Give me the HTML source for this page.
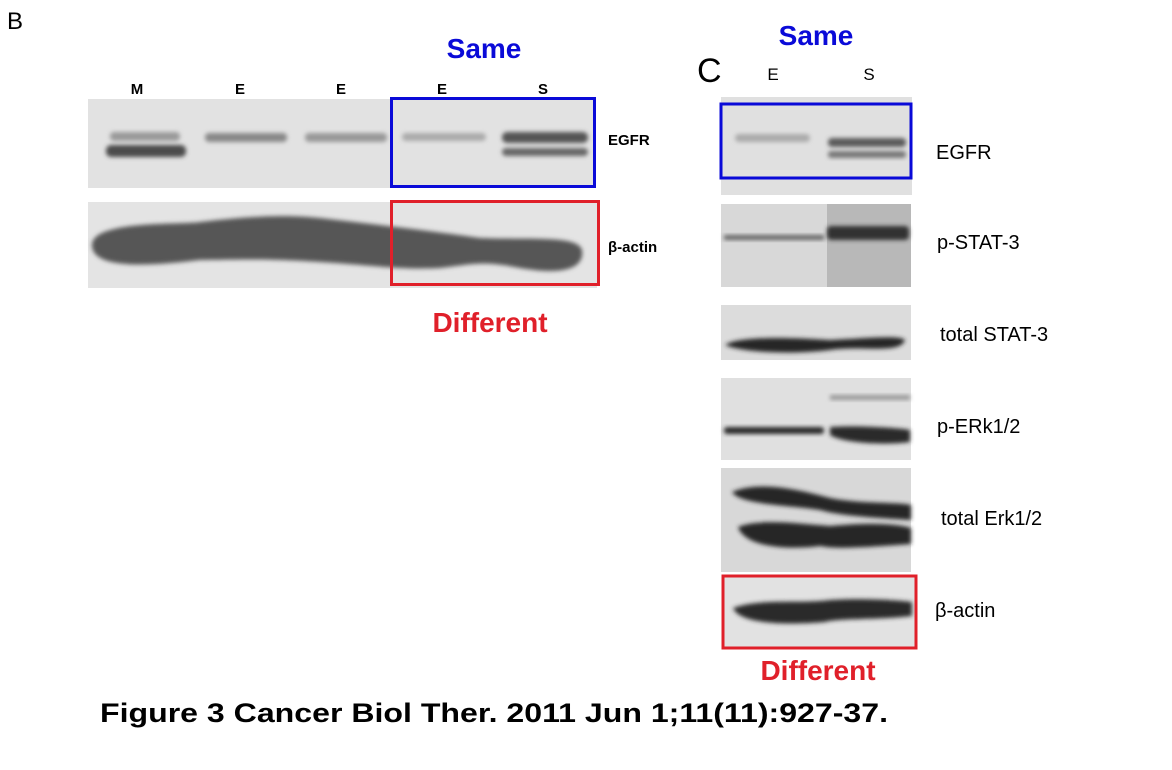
<!DOCTYPE html>
<html><head><meta charset="utf-8"><style>
html,body{margin:0;padding:0;background:#fff;width:1172px;height:770px;overflow:hidden}
svg{display:block}
</style></head><body>
<svg width="1172" height="770" viewBox="0 0 1172 770" xmlns="http://www.w3.org/2000/svg">
<defs>
<filter id="b2" x="-20%" y="-50%" width="140%" height="200%"><feGaussianBlur stdDeviation="2"/></filter>
<filter id="b4" x="-20%" y="-50%" width="140%" height="200%"><feGaussianBlur stdDeviation="4"/></filter>
</defs>
<g font-family="Liberation Sans, Arial, sans-serif">
<text x="7" y="29" font-size="24">B</text>
<text x="484" y="58" font-size="28" font-weight="bold" fill="#0a0ad8" text-anchor="middle">Same</text>
<g font-size="15" font-weight="bold" text-anchor="middle">
<text x="137" y="94">M</text><text x="240" y="94">E</text><text x="341" y="94">E</text><text x="442" y="94">E</text><text x="543" y="94">S</text>
</g>
<!-- B EGFR blot -->
<rect x="88" y="99" width="507" height="89" fill="#e2e2e2"/>
<g fill="#555" filter="url(#b2)">
<rect x="106" y="145" width="80" height="12" rx="5" fill="#4c4c4c"/>
<rect x="110" y="132" width="70" height="9" rx="4" fill="#9a9a9a"/>
<rect x="205" y="133" width="82" height="9" rx="4" fill="#888"/>
<rect x="305" y="133" width="82" height="9" rx="4" fill="#999"/>
<rect x="402" y="133" width="84" height="8" rx="4" fill="#aaa"/>
<rect x="502" y="132" width="86" height="11" rx="5" fill="#555"/>
<rect x="502" y="148" width="86" height="8" rx="4" fill="#666"/>
</g>
<!-- B actin blot -->
<rect x="88" y="202" width="509" height="86" fill="#e4e4e4"/>
<path d="M92,245 C92,220 180,225 200,222 C260,215 290,215 320,218 C380,225 440,232 480,238 C530,240 578,235 582,250 C585,270 560,275 520,268 C480,260 470,265 440,268 C400,270 370,265 320,262 C260,258 230,260 200,260 C150,266 92,270 92,245 Z" fill="#565656" filter="url(#b2)"/>
<text x="608" y="145" font-size="15" font-weight="bold">EGFR</text>
<text x="608" y="252" font-size="15" font-weight="bold">β-actin</text>
<rect x="391.5" y="98.5" width="203" height="88" fill="none" stroke="#0a0ad8" stroke-width="3"/>
<rect x="391.5" y="201.5" width="207" height="83" fill="none" stroke="#e0202a" stroke-width="3"/>
<text x="490" y="332" font-size="28" font-weight="bold" fill="#e0202a" text-anchor="middle">Different</text>

<!-- Panel C -->
<text x="816" y="45" font-size="28" font-weight="bold" fill="#0a0ad8" text-anchor="middle">Same</text>
<text x="697" y="82" font-size="34">C</text>
<text x="773" y="80" font-size="17" text-anchor="middle">E</text>
<text x="869" y="80" font-size="17" text-anchor="middle">S</text>
<rect x="721" y="97" width="191" height="98" fill="#e0e0e0"/>
<rect x="735" y="134" width="75" height="8" rx="4" fill="#aaa" filter="url(#b2)"/>
<rect x="828" y="138" width="78" height="9" rx="4" fill="#5c5c5c" filter="url(#b2)"/>
<rect x="828" y="151" width="78" height="7" rx="3" fill="#777" filter="url(#b2)"/>
<rect x="721" y="204" width="190" height="83" fill="#d8d8d8"/>
<rect x="827" y="204" width="84" height="83" fill="#b8b8b8"/>
<rect x="724" y="235" width="100" height="5" fill="#666" filter="url(#b2)"/>
<rect x="827" y="226" width="82" height="14" rx="4" fill="#333" filter="url(#b2)"/>
<rect x="721" y="305" width="190" height="55" fill="#dcdcdc"/>
<path d="M725,345 C740,335 800,338 830,340 C870,338 900,335 905,340 C900,355 860,345 830,350 C790,355 740,352 725,345Z" fill="#252525" filter="url(#b2)"/>
<rect x="721" y="378" width="190" height="82" fill="#e0e0e0"/>
<rect x="830" y="395" width="80" height="5" fill="#999" filter="url(#b2)"/>
<rect x="724" y="427" width="100" height="7" rx="3" fill="#2a2a2a" filter="url(#b2)"/>
<path d="M830,427 C860,425 900,428 910,430 L910,442 C880,446 840,442 830,435Z" fill="#2a2a2a" filter="url(#b2)"/>
<rect x="721" y="468" width="190" height="104" fill="#d8d8d8"/>
<path d="M732,492 C760,480 800,490 830,498 C860,504 900,502 911,505 L911,520 C880,518 840,516 820,510 C790,505 740,505 732,492Z" fill="#262626" filter="url(#b2)"/>
<path d="M738,527 C760,518 800,524 830,526 C870,522 900,524 911,528 L911,544 C880,546 840,550 820,546 C790,550 745,548 738,527Z" fill="#262626" filter="url(#b2)"/>
<rect x="722" y="576" width="194" height="72" fill="#e2e2e2"/>
<path d="M733,608 C760,598 800,604 830,600 C860,598 900,600 912,602 L912,616 C880,620 840,618 825,622 C790,625 740,625 733,608Z" fill="#2c2c2c" filter="url(#b2)"/>
<rect x="721" y="104" width="190" height="74" fill="none" stroke="#0a0ad8" stroke-width="3"/>
<rect x="723" y="576" width="193" height="72" fill="none" stroke="#e0202a" stroke-width="3"/>
<g font-size="20">
<text x="936" y="159">EGFR</text>
<text x="937" y="249">p-STAT-3</text>
<text x="940" y="341">total STAT-3</text>
<text x="937" y="433">p-ERk1/2</text>
<text x="941" y="525">total Erk1/2</text>
<text x="935" y="617">β-actin</text>
</g>
<text x="818" y="680" font-size="28" font-weight="bold" fill="#e0202a" text-anchor="middle">Different</text>
<text x="100" y="722" font-size="27" font-weight="bold" textLength="788" lengthAdjust="spacingAndGlyphs">Figure 3 Cancer Biol Ther. 2011 Jun 1;11(11):927-37.</text>
</g>
</svg>
</body></html>
